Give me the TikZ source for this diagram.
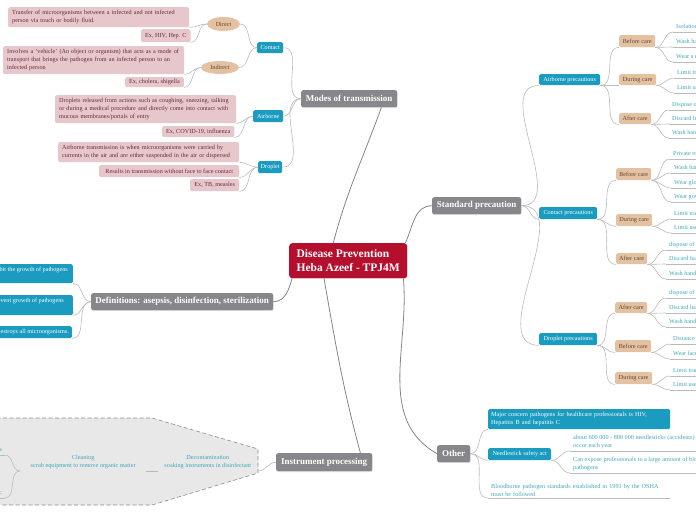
\documentclass[tikz,border=0pt]{standalone}
\usepackage{fontspec}
\setmainfont{Liberation Serif}
\usetikzlibrary{shapes.geometric,shadows}
\definecolor{rootred}{HTML}{B50F2E}
\definecolor{graynode}{HTML}{87878B}
\definecolor{tealc}{HTML}{1A9BBF}
\definecolor{leafc}{HTML}{3FA6B6}
\definecolor{tanc}{HTML}{E3C1A1}
\definecolor{tantext}{HTML}{5E4636}
\definecolor{pinkc}{HTML}{E6C7CC}
\definecolor{pinktext}{HTML}{6A2A38}
\definecolor{connl}{HTML}{BBBBBB}
\definecolor{connd}{HTML}{858585}
\definecolor{bndfill}{HTML}{E8E8E8}
\definecolor{bnddraw}{HTML}{8C8C8C}
\tikzset{
  smallfont/.style={font=\fontsize{6.2}{8}\selectfont},
  softshadow/.style={drop shadow={opacity=0.25, shadow xshift=0.4pt, shadow yshift=-0.8pt}},
  rootbox/.style={softshadow, rounded corners=3pt, fill=rootred, text=white, anchor=north west, inner xsep=6pt, inner ysep=0pt, align=left, font=\bfseries\fontsize{11.5}{13.5}\selectfont},
  mainbox/.style={softshadow, rounded corners=2pt, fill=graynode, text=white, anchor=north west, inner sep=0pt, font=\bfseries\fontsize{9}{10}\selectfont},
  tealbox/.style={smallfont, rounded corners=1.5pt, fill=tealc, text=white, anchor=north west, inner sep=0pt},
  tanbox/.style={smallfont, rounded corners=1.5pt, fill=tanc, text=tantext, anchor=north west, inner sep=0pt},
  pinkbox/.style={smallfont, rounded corners=1.5pt, fill=pinkc, text=pinktext, anchor=north west, inner xsep=4pt, inner ysep=0pt, align=left},
  tanell/.style={smallfont, ellipse, fill=tanc, text=tantext, inner sep=0pt},
  leaf/.style={smallfont, text=leafc, anchor=south west, inner xsep=3pt, inner ysep=1.5pt, text height=4.5pt, text depth=1.4pt},
  leaftwo/.style={smallfont, text=leafc, anchor=south west, inner xsep=3pt, inner ysep=1.5pt, align=left},
  conn/.style={draw=connl, line width=0.6pt},
  mconn/.style={draw=connd, line width=0.8pt},
}
\newcommand\mmleaf[3]{\node[leaf] (#1) at (#2) {#3}; \draw[conn] (#1.south west) -- (#1.south east);}
\begin{document}
\begin{tikzpicture}[x=1pt,y=1pt]
\useasboundingbox (0,0) rectangle (696,-520);
\clip (0,0) rectangle (696,-520);

% boundary of instrument processing
\draw[fill=bndfill, draw=bnddraw, dash pattern=on 4pt off 2.5pt, line width=0.6pt]
  (-10,-418) -- (152,-418) -- (258,-449) -- (258,-473) -- (152,-505) -- (-10,-505) -- cycle;

% root and main topics
\node[rootbox, minimum width=118pt, minimum height=35pt] (root) at (289,-243) {Disease Prevention\\Heba Azeef - TPJ4M};
\node[mainbox, minimum width=96pt, minimum height=17pt] (modes) at (301,-90) {Modes of transmission};
\node[mainbox, minimum width=89pt, minimum height=17pt] (std) at (432,-197) {Standard precaution};
\node[mainbox, minimum width=182pt, minimum height=17pt] (defs) at (91,-293) {Definitions: asepsis, disinfection, sterilization};
\node[mainbox, minimum width=96pt, minimum height=18pt] (instr) at (276,-453) {Instrument processing};
\node[mainbox, minimum width=33pt, minimum height=17pt] (other) at (437,-445) {Other};

% modes of transmission subtree
\node[tealbox, minimum width=26pt, minimum height=11pt] (contact) at (257,-42) {Contact};
\node[tealbox, minimum width=30pt, minimum height=12pt] (airb) at (253,-110) {Airborne};
\node[tealbox, minimum width=24pt, minimum height=12pt] (drop) at (258,-161) {Droplet};
\node[tanell, minimum width=33pt, minimum height=14pt] (direct) at (223.5,-24) {Direct};
\node[tanell, minimum width=38pt, minimum height=13pt] (indirect) at (220,-67.5) {Indirect};

\node[pinkbox, minimum width=181pt, minimum height=20pt, text width=173pt] (p1) at (8,-7) {Transfer of microorganisms between a infected and not infected\\person via touch or bodily fluid.};
\node[pinkbox, minimum width=46pt, minimum height=13pt] (p2) at (141,-29) {Ex, HIV, Hep. C};
\node[pinkbox, minimum width=181pt, minimum height=28pt, text width=173pt] (p3) at (3,-46) {Involves a 'vehicle' (An object or organism) that acts as a mode of\\transport that brings the pathogen from an infected person to an\\infected person};
\node[pinkbox, minimum width=58pt, minimum height=10pt] (p4) at (125,-77) {Ex, cholera, shigella};
\node[pinkbox, minimum width=181pt, minimum height=28pt, text width=173pt] (p5) at (55,-95) {Droplets released from actions such as coughing, sneezing, talking\\or during a medical procedure and directly come into contact with\\mucous membranes/portals of entry};
\node[pinkbox, minimum width=72pt, minimum height=11pt] (p6) at (162,-126) {Ex, COVID-19, influenza};
\node[pinkbox, minimum width=181pt, minimum height=20pt, text width=173pt] (p7) at (58,-142) {Airborne transmission is when microorganisms were carried by\\currents in the air and are either suspended in the air or dispersed};
\node[pinkbox, minimum width=140pt, minimum height=12pt] (p8) at (99,-165) {Results in transmission without face to face contact};
\node[pinkbox, minimum width=49pt, minimum height=12pt] (p9) at (190,-179) {Ex, TB, measles};

% definitions subtree
\node[tealbox, anchor=north east, minimum width=140pt, minimum height=19pt] (d1) at (73,-264) {};
\node[smallfont, text=white, anchor=north east, inner sep=0pt] (d1t) at (68,-267) {Asepsis: practices that inhibit the growth of pathogens};
\node[tealbox, anchor=north east, minimum width=140pt, minimum height=20pt] (d2) at (73,-295) {};
\node[smallfont, text=white, anchor=north east, inner sep=0pt] (d2t) at (64,-298) {Disinfection: practices that prevent growth of pathogens};
\node[tealbox, anchor=north east, minimum height=12pt, inner xsep=3pt] (d3) at (72,-326) {Sterilization: destroys all microorganisms.};

% instrument processing subtree
\node[smallfont, text=leafc, anchor=south east, minimum width=100pt, inner xsep=0pt, inner ysep=1.5pt, align=center] (decon) at (258,-471) {Decontamination\\soaking instruments in disinfectant};
\node[smallfont, text=leafc, anchor=south west, minimum width=126pt, inner xsep=0pt, inner ysep=1.5pt, align=center] (clean) at (20,-471) {Cleaning\\scrub equipment to remove organic matter};
\node[leaf, anchor=south east] (ster) at (5,-455) {kills all bacteria};
\draw[conn] (ster.south west) -- (ster.south east);
\node[leaf, anchor=south east] (disi) at (5,-498) {with an antiseptic};
\draw[conn] (disi.south west) -- (disi.south east);

% standard precaution subtree
\node[tealbox, minimum width=61pt, minimum height=11pt] (airp) at (539,-74) {Airborne precautions};
\node[tealbox, minimum width=58pt, minimum height=12pt] (conp) at (539,-207) {Contact precautions};
\node[tealbox, minimum width=58pt, minimum height=12pt] (drpp) at (539,-333) {Droplet precautions};

\node[tanbox, minimum width=36pt, minimum height=12pt] (ab) at (619,-35) {Before care};
\node[tanbox, minimum width=37pt, minimum height=11pt] (ad) at (619,-74) {During care};
\node[tanbox, minimum width=32pt, minimum height=11pt] (aa) at (619,-113) {After care};
\node[tanbox, minimum width=35pt, minimum height=12pt] (cb) at (616,-168) {Before care};
\node[tanbox, minimum width=36pt, minimum height=12pt] (cd) at (616,-214) {During care};
\node[tanbox, minimum width=31pt, minimum height=11pt] (ca) at (616,-253) {After care};
\node[tanbox, minimum width=32pt, minimum height=11pt] (da) at (615,-302) {After care};
\node[tanbox, minimum width=36pt, minimum height=12pt] (db) at (615,-340) {Before care};
\node[tanbox, minimum width=37pt, minimum height=12pt] (dd) at (615,-372) {During care};

\mmleaf{ab1}{673,-32}{Isolation room}
\mmleaf{ab2}{673,-47}{Wash hands}
\mmleaf{ab3}{673,-62}{Wear a mask}
\mmleaf{ad1}{674,-78}{Limit transport}
\mmleaf{ad2}{674,-93}{Limit use of equipment}
\mmleaf{aa1}{669,-110}{Dispose of mask}
\mmleaf{aa2}{669,-124}{Discard hazardous waste}
\mmleaf{aa3}{669,-138}{Wash hands}
\mmleaf{cb1}{670,-159}{Private room}
\mmleaf{cb2}{671,-173}{Wash hands}
\mmleaf{cb3}{671,-188}{Wear gloves}
\mmleaf{cb4}{671,-202}{Wear gowns}
\mmleaf{cd1}{671,-219}{Limit transport}
\mmleaf{cd2}{671,-233}{Limit use of equipment}
\mmleaf{ca1}{666,-250}{dispose of gloves}
\mmleaf{ca2}{666,-264}{Discard hazardous waste}
\mmleaf{ca3}{666,-279}{Wash hands}
\mmleaf{da1}{666,-298}{dispose of mask}
\mmleaf{da2}{666,-313}{Discard hazardous waste}
\mmleaf{da3}{666,-327}{Wash hands}
\mmleaf{db1}{670,-344}{Distance of 3 feet}
\mmleaf{db2}{670,-359}{Wear face mask}
\mmleaf{dd1}{670,-376}{Limit transport}
\mmleaf{dd2}{670,-390}{Limit use of equipment}

% other subtree
\node[tealbox, minimum width=182pt, minimum height=20pt, inner xsep=3pt, text width=176pt, align=left] (o1) at (488,-409) {Major concern pathogens for healthcare professionals is HIV,\\Hepatitis B and hepatitis C};
\node[tealbox, minimum width=63pt, minimum height=12pt] (nsa) at (488,-448) {Needlestick safety act};
\node[leaftwo] (n1) at (570,-451) {about 600 000 - 800 000 needlesticks (accidents)\\occur each year};
\draw[conn] (n1.south west) -- (n1.south east);
\node[leaftwo] (n2) at (570,-473) {Can expose professionals to a large amount of bloodborne\\pathogens};
\draw[conn] (n2.south west) -- (n2.south east);
\node[leaftwo, text width=176pt] (o3) at (488,-498) {Bloodborne pathogen standards established in 1991 by the OSHA\\must be followed};
\draw[conn] (o3.south west) -- (o3.south east);

% main connectors
\draw[mconn] ([xshift=-15pt]root.north) to[out=75,in=-110] ([xshift=-16pt]modes.south east);
\draw[mconn] ([xshift=-2pt]root.north east) to[out=65,in=180] (std.west);
\draw[mconn] ([xshift=3pt]root.south west) to[out=-105,in=0] (defs.east);
\draw[mconn] ([xshift=35pt]root.south west) to[out=-80,in=105] ([xshift=-12pt]instr.north east);
\draw[mconn] ([xshift=-4pt]root.south east) to[out=-85,in=150] (other.west);

% modes connectors
\draw[conn] (modes.west) to[out=180,in=0] (contact.east);
\draw[conn] (modes.west) to[out=180,in=0] (airb.east);
\draw[conn] (modes.west) to[out=180,in=0] (drop.east);
\draw[conn] (contact.west) to[out=180,in=0] (direct.east);
\draw[conn] (contact.west) to[out=180,in=0] (indirect.east);
\draw[conn] (direct.west) to[out=180,in=0] (p1.south east);
\draw[conn] (direct.west) to[out=180,in=0] (p2.south east);
\draw[conn] (indirect.west) to[out=180,in=0] (p3.south east);
\draw[conn] (indirect.west) to[out=180,in=0] (p4.south east);
\draw[conn] (airb.west) to[out=180,in=0] (p5.south east);
\draw[conn] (airb.west) to[out=180,in=0] (p6.south east);
\draw[conn] (drop.west) to[out=180,in=0] (p7.south east);
\draw[conn] (drop.west) to[out=180,in=0] (p8.south east);
\draw[conn] (drop.west) to[out=180,in=0] (p9.south east);

% definitions connectors
\draw[conn] (defs.west) to[out=180,in=0] (d1.south east);
\draw[conn] (defs.west) to[out=180,in=0] (d2.south east);
\draw[conn] (defs.west) to[out=180,in=0] (d3.south east);

% instrument connectors
\draw[conn] (instr.west) to[out=180,in=0] (decon.south east);
\draw[conn] (decon.south west) -- (clean.south east);
\draw[conn] (clean.south west) to[out=180,in=0] (ster.south east);
\draw[conn] (clean.south west) to[out=180,in=0] (disi.south east);

% standard connectors
\draw[conn] (std.east) to[out=0,in=180] (airp.south west);
\draw[conn] (std.east) to[out=0,in=180] (conp.south west);
\draw[conn] (std.east) to[out=0,in=180] (drpp.south west);
\foreach \t in {ab,ad,aa} \draw[conn] (airp.south east) to[out=0,in=180] (\t.south west);
\foreach \t in {cb,cd,ca} \draw[conn] (conp.south east) to[out=0,in=180] (\t.south west);
\foreach \t in {da,db,dd} \draw[conn] (drpp.south east) to[out=0,in=180] (\t.south west);
\foreach \l in {ab1,ab2,ab3} \draw[conn] (ab.south east) to[out=0,in=180] (\l.south west);
\foreach \l in {ad1,ad2} \draw[conn] (ad.south east) to[out=0,in=180] (\l.south west);
\foreach \l in {aa1,aa2,aa3} \draw[conn] (aa.south east) to[out=0,in=180] (\l.south west);
\foreach \l in {cb1,cb2,cb3,cb4} \draw[conn] (cb.south east) to[out=0,in=180] (\l.south west);
\foreach \l in {cd1,cd2} \draw[conn] (cd.south east) to[out=0,in=180] (\l.south west);
\foreach \l in {ca1,ca2,ca3} \draw[conn] (ca.south east) to[out=0,in=180] (\l.south west);
\foreach \l in {da1,da2,da3} \draw[conn] (da.south east) to[out=0,in=180] (\l.south west);
\foreach \l in {db1,db2} \draw[conn] (db.south east) to[out=0,in=180] (\l.south west);
\foreach \l in {dd1,dd2} \draw[conn] (dd.south east) to[out=0,in=180] (\l.south west);

% other connectors
\draw[conn] (other.east) to[out=0,in=180] (o1.south west);
\draw[conn] (other.east) to[out=0,in=180] (nsa.south west);
\draw[conn] (other.east) to[out=0,in=180] (o3.south west);
\draw[conn] (nsa.south east) to[out=0,in=180] (n1.south west);
\draw[conn] (nsa.south east) to[out=0,in=180] (n2.south west);
\end{tikzpicture}
\end{document}
